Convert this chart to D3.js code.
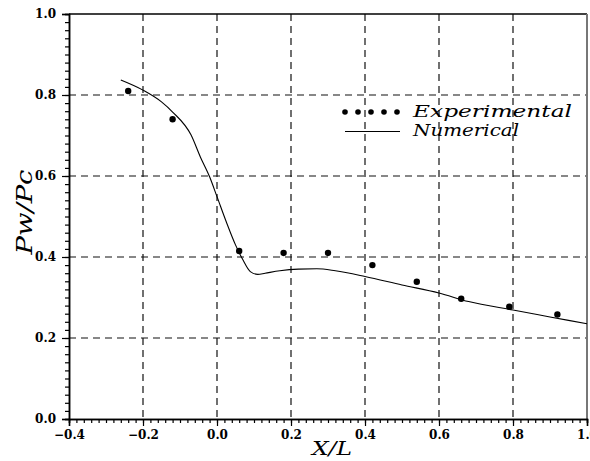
<!DOCTYPE html>
<html>
<head>
<meta charset="utf-8">
<script src="https://cdn.jsdelivr.net/npm/d3@7"></script>
<style>
  html, body { margin: 0; padding: 0; background: #fff; }
  svg { display: block; }
</style>
</head>
<body>
<svg id="chart" width="590" height="461"></svg>
<script>
// Wall pressure ratio along the nozzle: measurements and computation
const expX = [-0.24, -0.12, 0.06, 0.18, 0.30, 0.42, 0.54, 0.66, 0.79, 0.92];
const expY = [0.810, 0.740, 0.415, 0.410, 0.410, 0.380, 0.339, 0.297, 0.277, 0.258];

const numX = [-0.26, -0.20, -0.15, -0.12, -0.07, -0.045, -0.02, 0.0, 0.025, 0.05, 0.07, 0.09, 0.11, 0.13, 0.17, 0.22, 0.27, 0.32, 0.40, 0.50, 0.60, 0.68, 0.80, 0.90, 1.0];
const numY = [0.837, 0.812, 0.783, 0.758, 0.701, 0.647, 0.598, 0.549, 0.487, 0.430, 0.393, 0.364, 0.357, 0.360, 0.366, 0.370, 0.371, 0.366, 0.352, 0.331, 0.311, 0.290, 0.269, 0.252, 0.235];

const xTicks = [-0.4, -0.2, 0.0, 0.2, 0.4, 0.6, 0.8, 1.0];
const yTicks = [0.0, 0.2, 0.4, 0.6, 0.8, 1.0];
const xGrid = [-0.2, 0.0, 0.2, 0.4, 0.6, 0.8];
const yGrid = [0.2, 0.4, 0.6, 0.8];

const legendLabels = ["Experimental", "Numerical"];

const svg = d3.select("#chart");
const plotL = 69, plotR = 587, plotT = 14, plotB = 419;

const x = d3.scaleLinear().domain([-0.4, 1.0]).range([plotL, plotR]);
const y = d3.scaleLinear().domain([0, 1.0]).range([plotB, plotT]);

const serif = "'DejaVu Serif', 'Liberation Serif', serif";
const fmt = d => (d < 0 ? "\u2212" : "") + Math.abs(d).toFixed(1);

// dashed grid
const grid = svg.append("g").attr("stroke", "#111").attr("stroke-width", 1.2)
  .attr("stroke-dasharray", "7,5");
grid.selectAll("line.vx").data(xGrid).join("line")
  .attr("x1", d => x(d)).attr("x2", d => x(d))
  .attr("y1", plotT).attr("y2", plotB);
grid.selectAll("line.hy").data(yGrid).join("line")
  .attr("x1", plotL).attr("x2", plotR)
  .attr("y1", d => y(d)).attr("y2", d => y(d));

// frame: top and right borders
svg.append("line").attr("x1", plotL).attr("x2", plotR).attr("y1", plotT).attr("y2", plotT)
  .attr("stroke", "#000").attr("stroke-width", 1.5);
svg.append("line").attr("x1", plotR).attr("x2", plotR).attr("y1", plotT).attr("y2", plotB)
  .attr("stroke", "#777").attr("stroke-width", 2);

// axes with minor ticks every 0.02
const xMinor = d3.range(-0.4, 1.0001, 0.02);
const yMinor = d3.range(0, 1.0001, 0.02);

const xAxisMinor = d3.axisBottom(x).tickValues(xMinor).tickSize(4).tickFormat("");
const xAxisMajor = d3.axisBottom(x).tickValues(xTicks).tickSize(7).tickPadding(4).tickFormat(fmt);
const yAxisMinor = d3.axisLeft(y).tickValues(yMinor).tickSize(4).tickFormat("");
const yAxisMajor = d3.axisLeft(y).tickValues(yTicks).tickSize(7).tickPadding(6).tickFormat(fmt);

function styleAxis(g) {
  g.select(".domain").attr("stroke", "#000").attr("stroke-width", 1.5);
  g.selectAll(".tick line").attr("stroke", "#000").attr("stroke-width", 1.2);
  g.selectAll(".tick text").attr("fill", "#000")
    .style("font-family", serif).style("font-size", "12px").style("font-weight", "600");
}
svg.append("g").attr("transform", `translate(0,${plotB})`).call(xAxisMinor).call(styleAxis);
svg.append("g").attr("transform", `translate(0,${plotB})`).call(xAxisMajor).call(styleAxis);
svg.append("g").attr("transform", `translate(${plotL},0)`).call(yAxisMinor).call(styleAxis);
svg.append("g").attr("transform", `translate(${plotL},0)`).call(yAxisMajor).call(styleAxis);

// numerical curve
const numData = numX.map((v, i) => [v, numY[i]]);
const line = d3.line().x(d => x(d[0])).y(d => y(d[1])).curve(d3.curveMonotoneX);
svg.append("path").datum(numData).attr("d", line)
  .attr("fill", "none").attr("stroke", "#000").attr("stroke-width", 1.1);

// experimental points
const expData = expX.map((v, i) => [v, expY[i]]);
svg.append("g").selectAll("circle").data(expData).join("circle")
  .attr("cx", d => x(d[0])).attr("cy", d => y(d[1])).attr("r", 3.2).attr("fill", "#000");

// legend
const lg = svg.append("g");
const dotXs = d3.range(5).map(i => 345 + i * 13);
lg.selectAll("circle").data(dotXs).join("circle")
  .attr("cx", d => d).attr("cy", 112).attr("r", 2.8).attr("fill", "#000");
lg.append("line").attr("x1", 345).attr("x2", 400).attr("y1", 131.5).attr("y2", 131.5)
  .attr("stroke", "#000").attr("stroke-width", 1.1);
lg.selectAll("text").data(legendLabels).join("text")
  .attr("x", 413).attr("y", (d, i) => 117 + i * 19)
  .attr("textLength", (d, i) => i === 0 ? 159 : 106).attr("lengthAdjust", "spacingAndGlyphs")
  .style("font-family", serif).style("font-style", "italic").style("font-size", "16px")
  .attr("fill", "#000").text(d => d);

// axis titles
svg.append("text").attr("transform", "translate(32,212) rotate(-90)")
  .attr("text-anchor", "middle").attr("textLength", 85).attr("lengthAdjust", "spacingAndGlyphs")
  .style("font-family", serif).style("font-style", "italic").style("font-size", "23px")
  .attr("fill", "#000").text("Pw/Pc");
svg.append("text").attr("x", 332).attr("y", 455)
  .attr("text-anchor", "middle").attr("textLength", 40).attr("lengthAdjust", "spacingAndGlyphs")
  .style("font-family", serif).style("font-style", "italic").style("font-size", "19px")
  .attr("fill", "#000").text("X/L");
</script>
</body>
</html>
